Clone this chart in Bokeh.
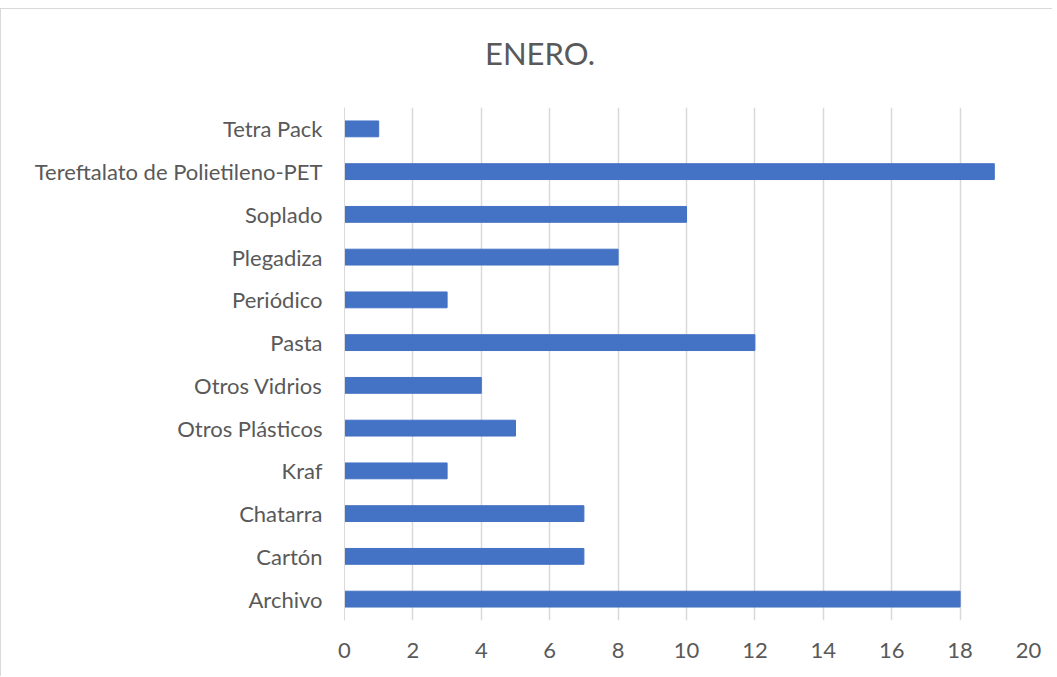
from bokeh.plotting import figure
from bokeh.models import FactorRange, Range1d, FixedTicker, Div
from bokeh.layouts import column
from bokeh.embed import file_html
from bokeh.resources import INLINE

categories = ["Archivo", "Cartón", "Chatarra", "Kraf", "Otros Plásticos", "Otros Vidrios",
              "Pasta", "Periódico", "Plegadiza", "Soplado",
              "Tereftalato de Polietileno-PET", "Tetra Pack"]
values = [18, 7, 7, 3, 5, 4, 12, 3, 8, 10, 19, 1]
x_ticks = [0, 2, 4, 6, 8, 10, 12, 14, 16, 18, 20]
title_text = "ENERO."

FONT = "Lato"
TXT = "#595959"
GRID = "#d9d9d9"

W = 1041
TH = 60
title_div = Div(
    text=('<div style="padding-top:24px;padding-left:479px;font-family:Lato;'
          'font-size:31px;line-height:31px;color:#595959;white-space:nowrap;">'
          + title_text + '</div>'),
    width=W, height=TH)

p = figure(width=W, height=597, output_backend="svg", toolbar_location=None,
           y_range=FactorRange(factors=categories), x_range=Range1d(0, 20),
           min_border_left=343, min_border_right=14, min_border_top=28, min_border_bottom=56)
p.outline_line_color = None
p.background_fill_color = "white"
p.border_fill_color = "white"

p.hbar(y=categories, right=values, left=0, height=0.37, color="#4472C4")

p.xaxis.ticker = FixedTicker(ticks=x_ticks)
p.xaxis.axis_line_color = None
p.xaxis.major_tick_line_color = None
p.xaxis.minor_tick_line_color = None
p.xaxis.major_label_text_font = FONT
p.xaxis.major_label_text_font_size = "22px"
p.xaxis.major_label_text_color = TXT
p.xaxis.major_label_standoff = 16

p.yaxis.axis_line_color = GRID
p.yaxis.axis_line_width = 1
p.yaxis.major_tick_line_color = None
p.yaxis.minor_tick_line_color = None
p.yaxis.major_label_text_font = FONT
p.yaxis.major_label_text_font_size = "22px"
p.yaxis.major_label_text_color = TXT
p.yaxis.major_label_standoff = 16

p.ygrid.grid_line_color = None
p.xgrid.grid_line_color = GRID
p.xgrid.grid_line_width = 1.5

lay = column(title_div, p)
lay.styles = {"border-left": "1px solid #d9d9d9", "border-top": "1px solid #d9d9d9",
              "margin-top": "8px", "background-color": "white"}

open("out.html", "w").write(file_html(lay, INLINE))
